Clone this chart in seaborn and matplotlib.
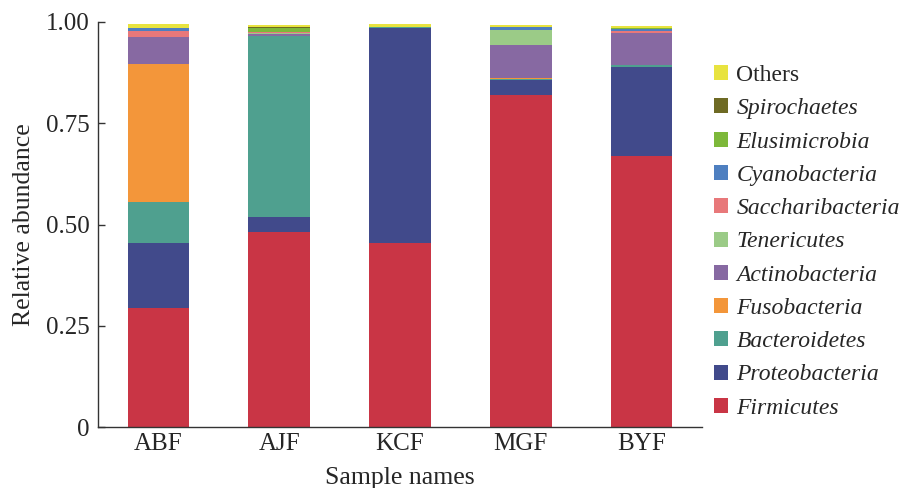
import numpy as np
import pandas as pd
import matplotlib
matplotlib.use('Agg')
import matplotlib.pyplot as plt
from matplotlib.patches import Patch
from matplotlib.ticker import FixedLocator
import seaborn as sns

# Samples and phylum abundances (bottom of stack first)
samples = ['ABF', 'AJF', 'KCF', 'MGF', 'BYF']
phyla = ['Firmicutes', 'Proteobacteria', 'Bacteroidetes', 'Fusobacteria',
         'Actinobacteria', 'Tenericutes', 'Saccharibacteria', 'Cyanobacteria',
         'Elusimicrobia', 'Spirochaetes', 'Others']

firmicutes = [0.293, 0.482, 0.455, 0.819, 0.669]
proteobacteria = [0.161, 0.037, 0.531, 0.039, 0.219]
bacteroidetes = [0.101, 0.446, 0.001, 0.001, 0.005]
fusobacteria = [0.341, 0.000, 0.000, 0.002, 0.000]
actinobacteria = [0.067, 0.006, 0.001, 0.082, 0.080]
tenericutes = [0.000, 0.002, 0.000, 0.037, 0.001]
saccharibacteria = [0.015, 0.002, 0.000, 0.001, 0.003]
cyanobacteria = [0.007, 0.001, 0.000, 0.007, 0.006]
elusimicrobia = [0.000, 0.008, 0.000, 0.000, 0.001]
spirochaetes = [0.001, 0.004, 0.000, 0.000, 0.000]
others = [0.008, 0.005, 0.006, 0.005, 0.006]

colors = ['#C93545', '#414A8B', '#4FA08F', '#F3963A', '#8769A2', '#9BCB87',
          '#E8787A', '#4E7FC0', '#7DB83A', '#6E6A24', '#E8E33F']

values = [firmicutes, proteobacteria, bacteroidetes, fusobacteria,
          actinobacteria, tenericutes, saccharibacteria, cyanobacteria,
          elusimicrobia, spirochaetes, others]

df = pd.DataFrame(dict(zip(phyla, values)), index=samples)
cum = df.cumsum(axis=1)

sns.set_style('white')
plt.rcParams['font.family'] = ['Liberation Serif', 'DejaVu Serif']

fig = plt.figure(figsize=(8.99, 4.88), dpi=100)
ax = fig.add_axes([98 / 899, 61 / 488, 604 / 899, 405 / 488])

# draw cumulative totals from the top layer down so each overlays the next
for name, col in zip(phyla[::-1], colors[::-1]):
    sns.barplot(x=samples, y=cum[name].values, color=col, width=0.51,
                saturation=1, ax=ax, linewidth=0)

ax.set_xlim(-0.5, 4.5)
ax.set_ylim(0, 1.0)
ax.set_yticks([0, 0.25, 0.5, 0.75, 1.0])
ax.set_yticklabels(['0', '0.25', '0.50', '0.75', '1.00'])
ax.xaxis.set_minor_locator(FixedLocator([0.5, 1.5, 2.5, 3.5, 4.5]))
ax.tick_params(axis='x', which='major', length=0, labelsize=18, pad=4)
ax.tick_params(axis='x', which='minor', direction='in', length=5,
               width=1, color='#333333')
ax.tick_params(axis='y', direction='in', length=5, width=1,
               color='#333333', labelsize=18, pad=6, left=True)
for s in ['top', 'right']:
    ax.spines[s].set_visible(False)
for s in ['left', 'bottom']:
    ax.spines[s].set_color('#333333')
    ax.spines[s].set_linewidth(1)
ax.set_xlabel('Sample names', fontsize=18.5, labelpad=9)
ax.set_ylabel('Relative abundance', fontsize=18.5, labelpad=8)

handles = [Patch(facecolor=c, edgecolor='none') for c in colors[::-1]]
leg = fig.legend(handles, phyla[::-1], loc='upper left',
                 bbox_to_anchor=(714 / 899, 1 - 65 / 488), frameon=False,
                 fontsize=17, handlelength=0.6, handleheight=0.6,
                 handletextpad=0.35, labelspacing=0.52, borderpad=0,
                 borderaxespad=0)
for t in leg.get_texts():
    if t.get_text() != 'Others':
        t.set_fontstyle('italic')

fig.savefig('out.png', dpi=100)
